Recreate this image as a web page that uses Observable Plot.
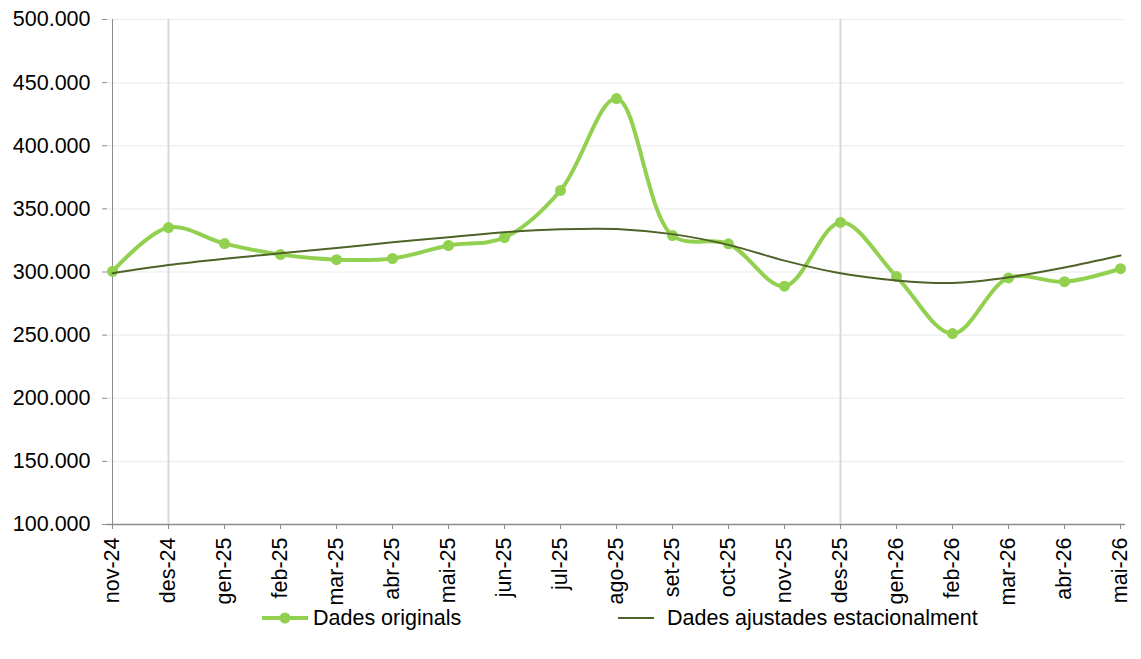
<!DOCTYPE html>
<html>
<head>
<meta charset="utf-8">
<script src="https://cdn.jsdelivr.net/npm/d3@7"></script>
<script src="https://cdn.jsdelivr.net/npm/@observablehq/plot@0.6"></script>
<style>
  html, body { margin: 0; background: #fff; font-family: "Liberation Sans", Arial, sans-serif; overflow: hidden; }
  #chart svg { display: block; }
  #legend { position: relative; width: 1141px; height: 54px; font-size: 21.5px; color: #000; }
  .item { position: absolute; top: 0; height: 26px; display: flex; align-items: center; }
</style>
</head>
<body>
<div id="chart"></div>
<div id="legend">
  <div class="item" style="left:261px">
    <svg width="50" height="20"><line x1="1" x2="47" y1="10" y2="10" stroke="#92D050" stroke-width="4"/><circle cx="24" cy="10" r="5.5" fill="#92D050"/></svg>
    <span style="margin-left:2px">Dades originals</span>
  </div>
  <div class="item" style="left:617px">
    <svg width="38" height="20"><line x1="1" x2="37" y1="10" y2="10" stroke="#4F6228" stroke-width="2"/></svg>
    <span style="margin-left:12px">Dades ajustades estacionalment</span>
  </div>
</div>
<script>
const months = ["nov-24","des-24","gen-25","feb-25","mar-25","abr-25","mai-25","jun-25","jul-25","ago-25","set-25","oct-25","nov-25","des-25","gen-26","feb-26","mar-26","abr-26","mai-26"];
const original = [300500, 335200, 322500, 313800, 309800, 310700, 321000, 327300, 364600, 437400, 328900, 322300, 288800, 339300, 296400, 251200, 295300, 292300, 302600];
const adjusted = [299000, 305500, 310500, 314800, 319000, 323500, 327500, 331500, 333800, 334000, 330000, 321500, 309000, 299000, 293300, 291300, 295800, 303500, 313000];
const highlightMonths = ["des-24", "des-25"];
const yTicks = [100000,150000,200000,250000,300000,350000,400000,450000,500000];
const gridTicks = yTicks.slice(1);

const fmt = d3.formatLocale({decimal: ",", thousands: ".", grouping: [3], currency: ["", " €"]}).format(",");

const rowsO = months.map((m, i) => ({month: m, value: original[i]}));
const rowsA = months.map((m, i) => ({month: m, value: adjusted[i]}));

const chart = Plot.plot({
  width: 1141,
  height: 605,
  marginLeft: 107,
  marginRight: 16,
  marginTop: 19,
  marginBottom: 81,
  style: {fontFamily: "'Liberation Sans', Arial, sans-serif", background: "#fff", color: "#000"},
  x: {type: "point", domain: months, padding: 0, inset: 0, range: [107, 1125]},
  y: {domain: [100000, 500000], range: [524, 19]},
  marks: [
    Plot.ruleY(gridTicks, {stroke: "#F0F0F0", strokeWidth: 1.5}),
    Plot.ruleX(highlightMonths, {stroke: "#D9D9D9", strokeWidth: 2}),
    Plot.ruleX([months[0]], {stroke: "#8C8C8C", strokeWidth: 1}),
    Plot.ruleY([100000], {stroke: "#8C8C8C", strokeWidth: 1.5}),
    Plot.axisY({ticks: yTicks, tickFormat: fmt, tickSize: 5, tickPadding: 12, fontSize: 21.5, stroke: "#8C8C8C", fill: "#000", label: null}),
    Plot.axisX({tickSize: 5, tickPadding: 8, tickRotate: -90, fontSize: 21.5, stroke: "#8C8C8C", fill: "#000", label: null}),
    Plot.line(rowsO, {x: "month", y: "value", stroke: "#92D050", strokeWidth: 4, curve: "catmull-rom"}),
    Plot.dot(rowsO, {x: "month", y: "value", fill: "#92D050", r: 5.5}),
    Plot.line(rowsA, {x: "month", y: "value", stroke: "#4F6228", strokeWidth: 2, curve: "catmull-rom"})
  ]
});
document.getElementById("chart").appendChild(chart);
</script>
</body>
</html>
